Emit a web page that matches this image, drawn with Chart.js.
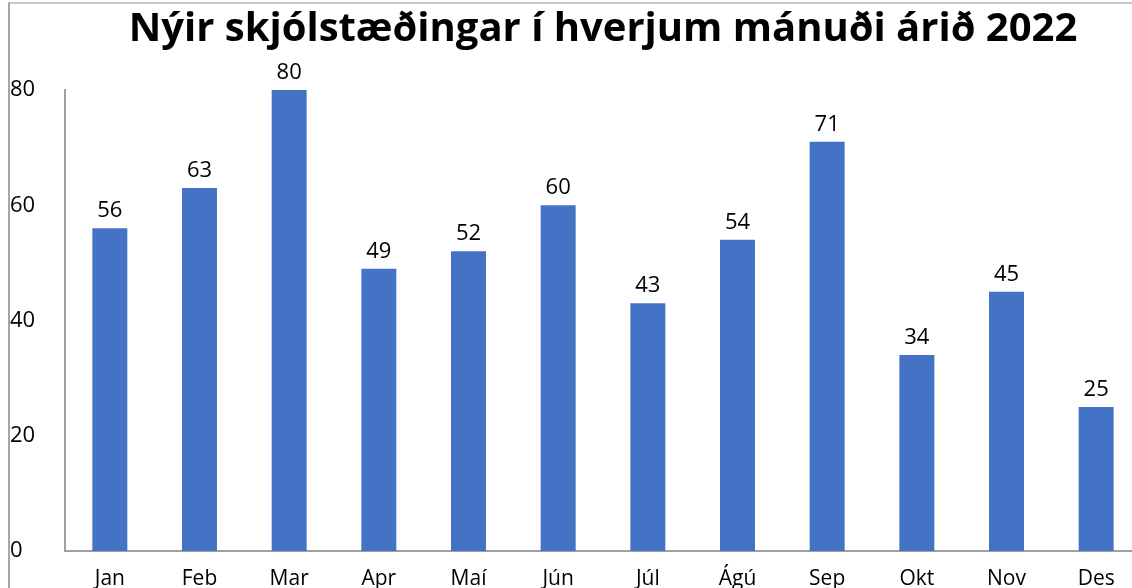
<!DOCTYPE html>
<html>
<head>
<meta charset="utf-8">
<script src="https://cdn.jsdelivr.net/npm/chart.js@4.4.1/dist/chart.umd.min.js"></script>
<style>
  html, body { margin: 0; padding: 0; background: #fff; overflow: hidden; }
  #wrap { width: 1132px; height: 588px; overflow: hidden; position: relative; }
  #c { display: block; }
</style>
</head>
<body>
<div id="wrap"><canvas id="c" width="1141" height="588" style="width:1141px;height:588px"></canvas></div>
<script>
const months = ["Jan", "Feb", "Mar", "Apr", "Maí", "Jún", "Júl", "Ágú", "Sep", "Okt", "Nov", "Des"];
const clients = [56, 63, 80, 49, 52, 60, 43, 54, 71, 34, 45, 25];
const yTicks = [0, 20, 40, 60, 80];
const chartTitle = "Nýir skjólstæðingar í hverjum mánuði árið 2022";

const FONT = "'Open Sans', sans-serif";

const framePlugin = {
  id: 'frame',
  beforeDraw(chart) {
    const ctx = chart.ctx;
    ctx.save();
    ctx.fillStyle = '#ffffff';
    ctx.fillRect(0, 0, chart.width, chart.height);
    ctx.strokeStyle = '#c8c8c8';
    ctx.lineWidth = 2;
    ctx.beginPath();
    ctx.moveTo(8, 3);
    ctx.lineTo(chart.width, 3);
    ctx.stroke();
    ctx.strokeStyle = '#a6a6a6';
    ctx.beginPath();
    ctx.moveTo(9, 3);
    ctx.lineTo(9, chart.height);
    ctx.stroke();
    ctx.restore();
  }
};

const valueLabels = {
  id: 'valueLabels',
  afterDatasetsDraw(chart) {
    const ctx = chart.ctx;
    const meta = chart.getDatasetMeta(0);
    ctx.save();
    ctx.font = "22px " + FONT;
    ctx.fillStyle = '#000';
    ctx.textAlign = 'center';
    ctx.textBaseline = 'alphabetic';
    meta.data.forEach((bar, i) => {
      ctx.fillText(String(clients[i]), bar.x, bar.y - 11);
    });
    ctx.restore();
  }
};

new Chart(document.getElementById('c'), {
  type: 'bar',
  data: {
    labels: months,
    datasets: [{
      data: clients,
      backgroundColor: '#4472C4',
      barPercentage: 0.39,
      categoryPercentage: 1.0
    }]
  },
  options: {
    responsive: false,
    animation: false,
    layout: { padding: { left: 10, right: 0, top: 0, bottom: 0 } },
    plugins: {
      legend: { display: false },
      tooltip: { enabled: false },
      title: {
        display: true,
        text: chartTitle,
        fullSize: false,
        color: '#000',
        font: { family: FONT, size: 40, weight: 'bold', lineHeight: 1.2 },
        padding: { top: 6, bottom: 36 }
      }
    },
    scales: {
      x: {
        grid: { display: false, drawTicks: false },
        border: { display: true, color: '#a0a0a0', width: 2 },
        ticks: {
          color: '#000',
          font: { family: FONT, size: 21 },
          padding: 15,
          maxRotation: 0,
          autoSkip: false
        },
        afterFit(scale) { scale.height = 37; }
      },
      y: {
        min: 0,
        max: 80,
        afterBuildTicks(scale) { scale.ticks = yTicks.map(v => ({ value: v })); },
        grid: { display: false, drawTicks: false },
        border: { display: true, color: '#a0a0a0', width: 2 },
        ticks: {
          color: '#000',
          font: { family: FONT, size: 22 },
          crossAlign: 'far',
          padding: 0
        },
        afterFit(scale) { scale.width = 55; }
      }
    }
  },
  plugins: [framePlugin, valueLabels]
});
</script>
</body>
</html>
